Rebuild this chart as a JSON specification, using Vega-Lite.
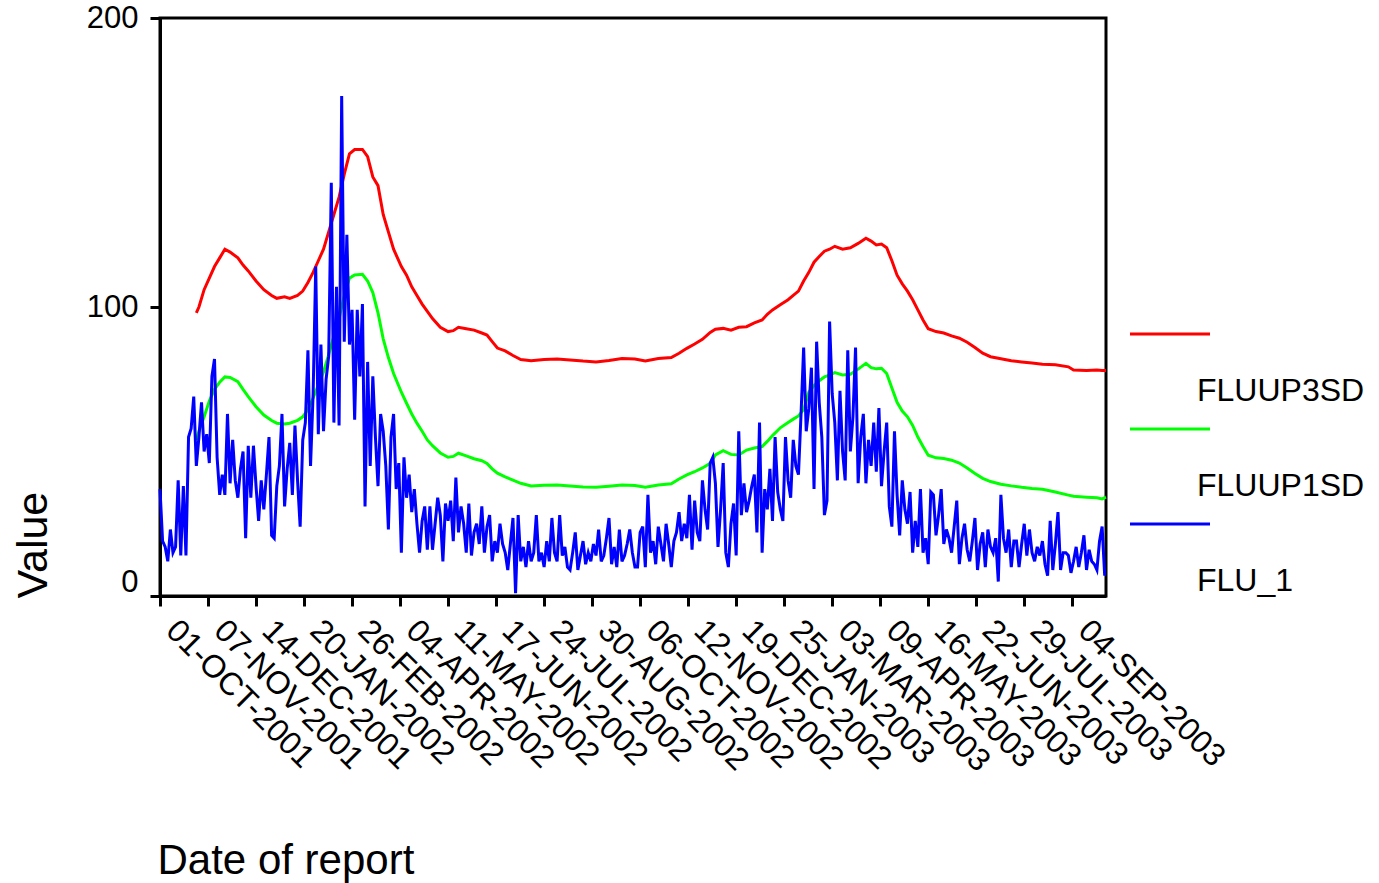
{
  "$schema": "https://vega.github.io/schema/vega-lite/v6.json",
  "width": 946,
  "height": 578,
  "autosize": {"type": "none"},
  "padding": {"left": 160, "top": 18, "right": 273, "bottom": 287},
  "background": "white",
  "config": {
    "view": {"stroke": "black", "strokeWidth": 3},
    "font": "Liberation Sans",
    "style": {"guide-label": {"lineHeight": 115}}
  },
  "datasets": {
    "limits": [
      {"date":"2001-10-29","FLUUP3SD":98,"FLUUP1SD":54},
      {"date":"2001-10-31","FLUUP3SD":100,"FLUUP1SD":57},
      {"date":"2001-11-04","FLUUP3SD":106,"FLUUP1SD":62},
      {"date":"2001-11-08","FLUUP3SD":110,"FLUUP1SD":67.5},
      {"date":"2001-11-12","FLUUP3SD":114,"FLUUP1SD":71.5},
      {"date":"2001-11-16","FLUUP3SD":117,"FLUUP1SD":74},
      {"date":"2001-11-20","FLUUP3SD":120,"FLUUP1SD":75.8},
      {"date":"2001-11-24","FLUUP3SD":119,"FLUUP1SD":75.6},
      {"date":"2001-11-30","FLUUP3SD":117,"FLUUP1SD":74.2},
      {"date":"2001-12-04","FLUUP3SD":114.5,"FLUUP1SD":71.5},
      {"date":"2001-12-08","FLUUP3SD":112.5,"FLUUP1SD":69},
      {"date":"2001-12-14","FLUUP3SD":109,"FLUUP1SD":65.5},
      {"date":"2001-12-20","FLUUP3SD":106,"FLUUP1SD":62.6},
      {"date":"2001-12-26","FLUUP3SD":104,"FLUUP1SD":60.7},
      {"date":"2001-12-30","FLUUP3SD":103,"FLUUP1SD":59.8},
      {"date":"2002-01-05","FLUUP3SD":103.5,"FLUUP1SD":59.5},
      {"date":"2002-01-09","FLUUP3SD":103,"FLUUP1SD":59.8},
      {"date":"2002-01-15","FLUUP3SD":104,"FLUUP1SD":60.8},
      {"date":"2002-01-19","FLUUP3SD":105.5,"FLUUP1SD":62},
      {"date":"2002-01-23","FLUUP3SD":108.5,"FLUUP1SD":64.5},
      {"date":"2002-01-27","FLUUP3SD":112,"FLUUP1SD":68.5},
      {"date":"2002-01-31","FLUUP3SD":116,"FLUUP1SD":73},
      {"date":"2002-02-04","FLUUP3SD":120,"FLUUP1SD":77.5},
      {"date":"2002-02-08","FLUUP3SD":126,"FLUUP1SD":83.5},
      {"date":"2002-02-12","FLUUP3SD":132,"FLUUP1SD":90},
      {"date":"2002-02-16","FLUUP3SD":138,"FLUUP1SD":96},
      {"date":"2002-02-20","FLUUP3SD":146,"FLUUP1SD":104},
      {"date":"2002-02-24","FLUUP3SD":153,"FLUUP1SD":110},
      {"date":"2002-02-28","FLUUP3SD":154.5,"FLUUP1SD":111.1},
      {"date":"2002-03-06","FLUUP3SD":154.5,"FLUUP1SD":111.3},
      {"date":"2002-03-10","FLUUP3SD":152,"FLUUP1SD":109},
      {"date":"2002-03-14","FLUUP3SD":145,"FLUUP1SD":105},
      {"date":"2002-03-18","FLUUP3SD":142,"FLUUP1SD":98},
      {"date":"2002-03-22","FLUUP3SD":132,"FLUUP1SD":89},
      {"date":"2002-03-26","FLUUP3SD":126,"FLUUP1SD":82.5},
      {"date":"2002-03-30","FLUUP3SD":120,"FLUUP1SD":77},
      {"date":"2002-04-05","FLUUP3SD":114,"FLUUP1SD":70.5},
      {"date":"2002-04-09","FLUUP3SD":111,"FLUUP1SD":66.7},
      {"date":"2002-04-13","FLUUP3SD":107,"FLUUP1SD":63},
      {"date":"2002-04-17","FLUUP3SD":104,"FLUUP1SD":59.8},
      {"date":"2002-04-21","FLUUP3SD":101,"FLUUP1SD":57},
      {"date":"2002-04-25","FLUUP3SD":98.5,"FLUUP1SD":54},
      {"date":"2002-04-29","FLUUP3SD":96,"FLUUP1SD":52},
      {"date":"2002-05-05","FLUUP3SD":93,"FLUUP1SD":49.5},
      {"date":"2002-05-11","FLUUP3SD":91.5,"FLUUP1SD":48},
      {"date":"2002-05-15","FLUUP3SD":91.8,"FLUUP1SD":48.3},
      {"date":"2002-05-19","FLUUP3SD":93,"FLUUP1SD":49.4},
      {"date":"2002-05-25","FLUUP3SD":92.5,"FLUUP1SD":48.5},
      {"date":"2002-05-31","FLUUP3SD":92,"FLUUP1SD":47.5},
      {"date":"2002-06-06","FLUUP3SD":91,"FLUUP1SD":46.8},
      {"date":"2002-06-10","FLUUP3SD":90.3,"FLUUP1SD":45.9},
      {"date":"2002-06-14","FLUUP3SD":88,"FLUUP1SD":44},
      {"date":"2002-06-18","FLUUP3SD":85.8,"FLUUP1SD":42.5},
      {"date":"2002-06-24","FLUUP3SD":84.8,"FLUUP1SD":41.2},
      {"date":"2002-06-30","FLUUP3SD":83.2,"FLUUP1SD":40.1},
      {"date":"2002-07-06","FLUUP3SD":81.8,"FLUUP1SD":39},
      {"date":"2002-07-14","FLUUP3SD":81.4,"FLUUP1SD":38.1},
      {"date":"2002-07-24","FLUUP3SD":81.8,"FLUUP1SD":38.3},
      {"date":"2002-08-03","FLUUP3SD":82,"FLUUP1SD":38.4},
      {"date":"2002-08-13","FLUUP3SD":81.7,"FLUUP1SD":38.1},
      {"date":"2002-08-23","FLUUP3SD":81.3,"FLUUP1SD":37.7},
      {"date":"2002-09-02","FLUUP3SD":81,"FLUUP1SD":37.6},
      {"date":"2002-09-12","FLUUP3SD":81.5,"FLUUP1SD":38},
      {"date":"2002-09-22","FLUUP3SD":82.2,"FLUUP1SD":38.4},
      {"date":"2002-10-02","FLUUP3SD":82,"FLUUP1SD":38.2},
      {"date":"2002-10-10","FLUUP3SD":81.3,"FLUUP1SD":37.6},
      {"date":"2002-10-20","FLUUP3SD":82.2,"FLUUP1SD":38.4},
      {"date":"2002-10-30","FLUUP3SD":82.5,"FLUUP1SD":38.8},
      {"date":"2002-11-05","FLUUP3SD":84,"FLUUP1SD":40.5},
      {"date":"2002-11-11","FLUUP3SD":85.7,"FLUUP1SD":41.9},
      {"date":"2002-11-17","FLUUP3SD":87.2,"FLUUP1SD":43},
      {"date":"2002-11-23","FLUUP3SD":88.8,"FLUUP1SD":44.3},
      {"date":"2002-11-29","FLUUP3SD":91.2,"FLUUP1SD":45.9},
      {"date":"2002-12-03","FLUUP3SD":92.3,"FLUUP1SD":48.8},
      {"date":"2002-12-09","FLUUP3SD":92.6,"FLUUP1SD":50.3},
      {"date":"2002-12-15","FLUUP3SD":92,"FLUUP1SD":49},
      {"date":"2002-12-21","FLUUP3SD":93,"FLUUP1SD":48.8},
      {"date":"2002-12-27","FLUUP3SD":93.2,"FLUUP1SD":50.5},
      {"date":"2003-01-02","FLUUP3SD":94.5,"FLUUP1SD":51.2},
      {"date":"2003-01-08","FLUUP3SD":95.5,"FLUUP1SD":51.7},
      {"date":"2003-01-12","FLUUP3SD":97.5,"FLUUP1SD":53.5},
      {"date":"2003-01-16","FLUUP3SD":99,"FLUUP1SD":55.5},
      {"date":"2003-01-22","FLUUP3SD":100.8,"FLUUP1SD":58.2},
      {"date":"2003-01-28","FLUUP3SD":102.5,"FLUUP1SD":60},
      {"date":"2003-02-01","FLUUP3SD":104,"FLUUP1SD":61.2},
      {"date":"2003-02-05","FLUUP3SD":105.5,"FLUUP1SD":62.3},
      {"date":"2003-02-09","FLUUP3SD":109,"FLUUP1SD":64.5},
      {"date":"2003-02-13","FLUUP3SD":112,"FLUUP1SD":70.5},
      {"date":"2003-02-17","FLUUP3SD":115.5,"FLUUP1SD":72.8},
      {"date":"2003-02-21","FLUUP3SD":117.5,"FLUUP1SD":74.5},
      {"date":"2003-02-25","FLUUP3SD":119.3,"FLUUP1SD":75.8},
      {"date":"2003-03-01","FLUUP3SD":120,"FLUUP1SD":76.4},
      {"date":"2003-03-05","FLUUP3SD":121,"FLUUP1SD":77.3},
      {"date":"2003-03-11","FLUUP3SD":120,"FLUUP1SD":76.5},
      {"date":"2003-03-17","FLUUP3SD":120.5,"FLUUP1SD":76.7},
      {"date":"2003-03-23","FLUUP3SD":122,"FLUUP1SD":78.5},
      {"date":"2003-03-29","FLUUP3SD":123.8,"FLUUP1SD":80.5},
      {"date":"2003-04-02","FLUUP3SD":122.8,"FLUUP1SD":79},
      {"date":"2003-04-06","FLUUP3SD":121.5,"FLUUP1SD":78.6},
      {"date":"2003-04-10","FLUUP3SD":121.8,"FLUUP1SD":78.8},
      {"date":"2003-04-14","FLUUP3SD":120.5,"FLUUP1SD":77},
      {"date":"2003-04-18","FLUUP3SD":116,"FLUUP1SD":72},
      {"date":"2003-04-22","FLUUP3SD":111,"FLUUP1SD":67},
      {"date":"2003-04-26","FLUUP3SD":108,"FLUUP1SD":64},
      {"date":"2003-04-30","FLUUP3SD":105.5,"FLUUP1SD":62},
      {"date":"2003-05-04","FLUUP3SD":102.5,"FLUUP1SD":59},
      {"date":"2003-05-08","FLUUP3SD":99,"FLUUP1SD":55},
      {"date":"2003-05-12","FLUUP3SD":95.5,"FLUUP1SD":51.7},
      {"date":"2003-05-16","FLUUP3SD":92.5,"FLUUP1SD":48.7},
      {"date":"2003-05-22","FLUUP3SD":91.5,"FLUUP1SD":47.8},
      {"date":"2003-05-28","FLUUP3SD":91,"FLUUP1SD":47.6},
      {"date":"2003-06-03","FLUUP3SD":90,"FLUUP1SD":47},
      {"date":"2003-06-09","FLUUP3SD":89.2,"FLUUP1SD":46},
      {"date":"2003-06-15","FLUUP3SD":87.8,"FLUUP1SD":44.3},
      {"date":"2003-06-21","FLUUP3SD":86,"FLUUP1SD":42.4},
      {"date":"2003-06-27","FLUUP3SD":84,"FLUUP1SD":40.7},
      {"date":"2003-07-03","FLUUP3SD":82.8,"FLUUP1SD":39.6},
      {"date":"2003-07-11","FLUUP3SD":82.1,"FLUUP1SD":38.7},
      {"date":"2003-07-19","FLUUP3SD":81.4,"FLUUP1SD":38.1},
      {"date":"2003-07-27","FLUUP3SD":81,"FLUUP1SD":37.6},
      {"date":"2003-08-04","FLUUP3SD":80.6,"FLUUP1SD":37.2},
      {"date":"2003-08-12","FLUUP3SD":80.2,"FLUUP1SD":36.9},
      {"date":"2003-08-22","FLUUP3SD":80,"FLUUP1SD":36},
      {"date":"2003-09-01","FLUUP3SD":79.3,"FLUUP1SD":34.9},
      {"date":"2003-09-05","FLUUP3SD":78.2,"FLUUP1SD":34.5},
      {"date":"2003-09-15","FLUUP3SD":78,"FLUUP1SD":34.2},
      {"date":"2003-09-23","FLUUP3SD":78.2,"FLUUP1SD":34},
      {"date":"2003-09-27","FLUUP3SD":78,"FLUUP1SD":33.6},
      {"date":"2003-09-30","FLUUP3SD":78,"FLUUP1SD":34.2}
    ],
    "flu": [
      {"date":"2001-10-01","FLU_1":37},{"date":"2001-10-03","FLU_1":19},{"date":"2001-10-05","FLU_1":17},{"date":"2001-10-07","FLU_1":12},
      {"date":"2001-10-09","FLU_1":23},{"date":"2001-10-11","FLU_1":15},{"date":"2001-10-13","FLU_1":17},{"date":"2001-10-15","FLU_1":40},
      {"date":"2001-10-17","FLU_1":14},{"date":"2001-10-19","FLU_1":38},{"date":"2001-10-21","FLU_1":14},{"date":"2001-10-23","FLU_1":55},
      {"date":"2001-10-25","FLU_1":58},{"date":"2001-10-27","FLU_1":69},{"date":"2001-10-29","FLU_1":45},{"date":"2001-10-31","FLU_1":55},
      {"date":"2001-11-02","FLU_1":67},{"date":"2001-11-04","FLU_1":50},{"date":"2001-11-06","FLU_1":56},{"date":"2001-11-08","FLU_1":46},
      {"date":"2001-11-10","FLU_1":76},{"date":"2001-11-12","FLU_1":82},{"date":"2001-11-14","FLU_1":48},{"date":"2001-11-16","FLU_1":35},
      {"date":"2001-11-18","FLU_1":42},{"date":"2001-11-20","FLU_1":35},{"date":"2001-11-22","FLU_1":63},{"date":"2001-11-24","FLU_1":39},
      {"date":"2001-11-26","FLU_1":54},{"date":"2001-11-28","FLU_1":40},{"date":"2001-11-30","FLU_1":34},
      {"date":"2001-12-02","FLU_1":44},{"date":"2001-12-04","FLU_1":50},{"date":"2001-12-06","FLU_1":20},{"date":"2001-12-08","FLU_1":52},
      {"date":"2001-12-10","FLU_1":34},{"date":"2001-12-12","FLU_1":52},{"date":"2001-12-14","FLU_1":38},{"date":"2001-12-16","FLU_1":26},
      {"date":"2001-12-18","FLU_1":40},{"date":"2001-12-20","FLU_1":30},{"date":"2001-12-22","FLU_1":42},{"date":"2001-12-24","FLU_1":55},
      {"date":"2001-12-26","FLU_1":21},{"date":"2001-12-28","FLU_1":20},{"date":"2001-12-30","FLU_1":38},
      {"date":"2002-01-01","FLU_1":45},{"date":"2002-01-03","FLU_1":63},{"date":"2002-01-05","FLU_1":31},{"date":"2002-01-07","FLU_1":44},
      {"date":"2002-01-09","FLU_1":53},{"date":"2002-01-11","FLU_1":35},{"date":"2002-01-13","FLU_1":59},{"date":"2002-01-15","FLU_1":40},
      {"date":"2002-01-17","FLU_1":24},{"date":"2002-01-19","FLU_1":54},{"date":"2002-01-21","FLU_1":60},{"date":"2002-01-23","FLU_1":85},
      {"date":"2002-01-25","FLU_1":45},{"date":"2002-01-27","FLU_1":70},{"date":"2002-01-29","FLU_1":114},{"date":"2002-01-31","FLU_1":56},
      {"date":"2002-02-02","FLU_1":87},{"date":"2002-02-04","FLU_1":57},{"date":"2002-02-06","FLU_1":75},{"date":"2002-02-08","FLU_1":83},
      {"date":"2002-02-10","FLU_1":143},{"date":"2002-02-12","FLU_1":60},{"date":"2002-02-14","FLU_1":107},{"date":"2002-02-16","FLU_1":59},
      {"date":"2002-02-18","FLU_1":173},{"date":"2002-02-20","FLU_1":88},{"date":"2002-02-22","FLU_1":125},{"date":"2002-02-24","FLU_1":87},
      {"date":"2002-02-26","FLU_1":99},{"date":"2002-02-28","FLU_1":61},
      {"date":"2002-03-02","FLU_1":99},{"date":"2002-03-04","FLU_1":76},{"date":"2002-03-06","FLU_1":101},{"date":"2002-03-08","FLU_1":31},
      {"date":"2002-03-10","FLU_1":81},{"date":"2002-03-12","FLU_1":45},{"date":"2002-03-14","FLU_1":76},{"date":"2002-03-16","FLU_1":55},
      {"date":"2002-03-18","FLU_1":38},{"date":"2002-03-20","FLU_1":63},{"date":"2002-03-22","FLU_1":57},{"date":"2002-03-24","FLU_1":45},
      {"date":"2002-03-26","FLU_1":23},{"date":"2002-03-28","FLU_1":55},{"date":"2002-03-30","FLU_1":63},
      {"date":"2002-04-01","FLU_1":37},{"date":"2002-04-03","FLU_1":46},{"date":"2002-04-05","FLU_1":15},{"date":"2002-04-07","FLU_1":48},
      {"date":"2002-04-09","FLU_1":34},{"date":"2002-04-11","FLU_1":42},{"date":"2002-04-13","FLU_1":29},{"date":"2002-04-15","FLU_1":37},
      {"date":"2002-04-17","FLU_1":25},{"date":"2002-04-19","FLU_1":15},{"date":"2002-04-21","FLU_1":26},{"date":"2002-04-23","FLU_1":31},
      {"date":"2002-04-25","FLU_1":16},{"date":"2002-04-27","FLU_1":31},{"date":"2002-04-29","FLU_1":16},
      {"date":"2002-05-01","FLU_1":25},{"date":"2002-05-03","FLU_1":34},{"date":"2002-05-05","FLU_1":28},{"date":"2002-05-07","FLU_1":12},
      {"date":"2002-05-09","FLU_1":32},{"date":"2002-05-11","FLU_1":26},{"date":"2002-05-13","FLU_1":33},{"date":"2002-05-15","FLU_1":19},
      {"date":"2002-05-17","FLU_1":41},{"date":"2002-05-19","FLU_1":22},{"date":"2002-05-21","FLU_1":31},{"date":"2002-05-23","FLU_1":25},
      {"date":"2002-05-25","FLU_1":15},{"date":"2002-05-27","FLU_1":32},{"date":"2002-05-29","FLU_1":14},{"date":"2002-05-31","FLU_1":22},
      {"date":"2002-06-02","FLU_1":25},{"date":"2002-06-04","FLU_1":18},{"date":"2002-06-06","FLU_1":31},{"date":"2002-06-08","FLU_1":15},
      {"date":"2002-06-10","FLU_1":24},{"date":"2002-06-12","FLU_1":28},{"date":"2002-06-14","FLU_1":12},{"date":"2002-06-16","FLU_1":19},
      {"date":"2002-06-18","FLU_1":15},{"date":"2002-06-20","FLU_1":25},{"date":"2002-06-22","FLU_1":18},{"date":"2002-06-24","FLU_1":15},
      {"date":"2002-06-26","FLU_1":9},{"date":"2002-06-28","FLU_1":18},{"date":"2002-06-30","FLU_1":27},
      {"date":"2002-07-02","FLU_1":1},{"date":"2002-07-04","FLU_1":28},{"date":"2002-07-06","FLU_1":12},{"date":"2002-07-08","FLU_1":17},
      {"date":"2002-07-10","FLU_1":10},{"date":"2002-07-12","FLU_1":19},{"date":"2002-07-14","FLU_1":12},{"date":"2002-07-16","FLU_1":15},
      {"date":"2002-07-18","FLU_1":28},{"date":"2002-07-20","FLU_1":12},{"date":"2002-07-22","FLU_1":15},{"date":"2002-07-24","FLU_1":10},
      {"date":"2002-07-26","FLU_1":19},{"date":"2002-07-28","FLU_1":12},{"date":"2002-07-30","FLU_1":27},
      {"date":"2002-08-01","FLU_1":15},{"date":"2002-08-03","FLU_1":12},{"date":"2002-08-05","FLU_1":28},{"date":"2002-08-07","FLU_1":14},
      {"date":"2002-08-09","FLU_1":17},{"date":"2002-08-11","FLU_1":10},{"date":"2002-08-13","FLU_1":9},{"date":"2002-08-15","FLU_1":15},
      {"date":"2002-08-17","FLU_1":22},{"date":"2002-08-19","FLU_1":9},{"date":"2002-08-21","FLU_1":14},{"date":"2002-08-23","FLU_1":19},
      {"date":"2002-08-25","FLU_1":11},{"date":"2002-08-27","FLU_1":15},{"date":"2002-08-29","FLU_1":12},{"date":"2002-08-31","FLU_1":18},
      {"date":"2002-09-02","FLU_1":14},{"date":"2002-09-04","FLU_1":23},{"date":"2002-09-06","FLU_1":12},{"date":"2002-09-08","FLU_1":14},
      {"date":"2002-09-10","FLU_1":20},{"date":"2002-09-12","FLU_1":27},{"date":"2002-09-14","FLU_1":11},{"date":"2002-09-16","FLU_1":17},
      {"date":"2002-09-18","FLU_1":10},{"date":"2002-09-20","FLU_1":23},{"date":"2002-09-22","FLU_1":12},{"date":"2002-09-24","FLU_1":14},
      {"date":"2002-09-26","FLU_1":18},{"date":"2002-09-28","FLU_1":23},{"date":"2002-09-30","FLU_1":15},
      {"date":"2002-10-02","FLU_1":10},{"date":"2002-10-04","FLU_1":10},{"date":"2002-10-06","FLU_1":22},{"date":"2002-10-08","FLU_1":24},
      {"date":"2002-10-10","FLU_1":10},{"date":"2002-10-12","FLU_1":35},{"date":"2002-10-14","FLU_1":15},{"date":"2002-10-16","FLU_1":19},
      {"date":"2002-10-18","FLU_1":11},{"date":"2002-10-20","FLU_1":24},{"date":"2002-10-22","FLU_1":18},{"date":"2002-10-24","FLU_1":12},
      {"date":"2002-10-26","FLU_1":25},{"date":"2002-10-28","FLU_1":18},{"date":"2002-10-30","FLU_1":10},
      {"date":"2002-11-01","FLU_1":19},{"date":"2002-11-03","FLU_1":22},{"date":"2002-11-05","FLU_1":29},{"date":"2002-11-07","FLU_1":19},
      {"date":"2002-11-09","FLU_1":25},{"date":"2002-11-11","FLU_1":20},{"date":"2002-11-13","FLU_1":35},{"date":"2002-11-15","FLU_1":16},
      {"date":"2002-11-17","FLU_1":33},{"date":"2002-11-19","FLU_1":22},{"date":"2002-11-21","FLU_1":19},{"date":"2002-11-23","FLU_1":40},
      {"date":"2002-11-25","FLU_1":30},{"date":"2002-11-27","FLU_1":23},{"date":"2002-11-29","FLU_1":46},
      {"date":"2002-12-01","FLU_1":48},{"date":"2002-12-03","FLU_1":39},{"date":"2002-12-05","FLU_1":17},{"date":"2002-12-07","FLU_1":30},
      {"date":"2002-12-09","FLU_1":46},{"date":"2002-12-11","FLU_1":15},{"date":"2002-12-13","FLU_1":10},{"date":"2002-12-15","FLU_1":25},
      {"date":"2002-12-17","FLU_1":32},{"date":"2002-12-19","FLU_1":14},{"date":"2002-12-21","FLU_1":57},{"date":"2002-12-23","FLU_1":28},
      {"date":"2002-12-25","FLU_1":39},{"date":"2002-12-27","FLU_1":29},{"date":"2002-12-29","FLU_1":33},{"date":"2002-12-31","FLU_1":38},
      {"date":"2003-01-02","FLU_1":42},{"date":"2003-01-04","FLU_1":22},{"date":"2003-01-06","FLU_1":60},{"date":"2003-01-08","FLU_1":15},
      {"date":"2003-01-10","FLU_1":37},{"date":"2003-01-12","FLU_1":30},{"date":"2003-01-14","FLU_1":44},{"date":"2003-01-16","FLU_1":26},
      {"date":"2003-01-18","FLU_1":55},{"date":"2003-01-20","FLU_1":36},{"date":"2003-01-22","FLU_1":30},{"date":"2003-01-24","FLU_1":26},
      {"date":"2003-01-26","FLU_1":55},{"date":"2003-01-28","FLU_1":40},{"date":"2003-01-30","FLU_1":34},
      {"date":"2003-02-01","FLU_1":54},{"date":"2003-02-03","FLU_1":45},{"date":"2003-02-05","FLU_1":42},{"date":"2003-02-07","FLU_1":63},
      {"date":"2003-02-09","FLU_1":86},{"date":"2003-02-11","FLU_1":57},{"date":"2003-02-13","FLU_1":65},{"date":"2003-02-15","FLU_1":79},
      {"date":"2003-02-17","FLU_1":37},{"date":"2003-02-19","FLU_1":88},{"date":"2003-02-21","FLU_1":67},{"date":"2003-02-23","FLU_1":55},
      {"date":"2003-02-25","FLU_1":28},{"date":"2003-02-27","FLU_1":33},
      {"date":"2003-03-01","FLU_1":95},{"date":"2003-03-03","FLU_1":70},{"date":"2003-03-05","FLU_1":60},{"date":"2003-03-07","FLU_1":40},
      {"date":"2003-03-09","FLU_1":71},{"date":"2003-03-11","FLU_1":50},{"date":"2003-03-13","FLU_1":40},{"date":"2003-03-15","FLU_1":85},
      {"date":"2003-03-17","FLU_1":50},{"date":"2003-03-19","FLU_1":62},{"date":"2003-03-21","FLU_1":86},{"date":"2003-03-23","FLU_1":39},
      {"date":"2003-03-25","FLU_1":55},{"date":"2003-03-27","FLU_1":63},{"date":"2003-03-29","FLU_1":39},{"date":"2003-03-31","FLU_1":54},
      {"date":"2003-04-02","FLU_1":45},{"date":"2003-04-04","FLU_1":60},{"date":"2003-04-06","FLU_1":43},{"date":"2003-04-08","FLU_1":65},
      {"date":"2003-04-10","FLU_1":38},{"date":"2003-04-12","FLU_1":50},{"date":"2003-04-14","FLU_1":60},{"date":"2003-04-16","FLU_1":31},
      {"date":"2003-04-18","FLU_1":24},{"date":"2003-04-20","FLU_1":57},{"date":"2003-04-22","FLU_1":35},{"date":"2003-04-24","FLU_1":21},
      {"date":"2003-04-26","FLU_1":40},{"date":"2003-04-28","FLU_1":30},{"date":"2003-04-30","FLU_1":25},
      {"date":"2003-05-02","FLU_1":36},{"date":"2003-05-04","FLU_1":15},{"date":"2003-05-06","FLU_1":26},{"date":"2003-05-08","FLU_1":17},
      {"date":"2003-05-10","FLU_1":37},{"date":"2003-05-12","FLU_1":15},{"date":"2003-05-14","FLU_1":20},{"date":"2003-05-16","FLU_1":11},
      {"date":"2003-05-18","FLU_1":36},{"date":"2003-05-20","FLU_1":35},{"date":"2003-05-22","FLU_1":21},{"date":"2003-05-24","FLU_1":28},
      {"date":"2003-05-26","FLU_1":37},{"date":"2003-05-28","FLU_1":18},{"date":"2003-05-30","FLU_1":23},
      {"date":"2003-06-01","FLU_1":20},{"date":"2003-06-03","FLU_1":15},{"date":"2003-06-05","FLU_1":24},{"date":"2003-06-07","FLU_1":33},
      {"date":"2003-06-09","FLU_1":11},{"date":"2003-06-11","FLU_1":20},{"date":"2003-06-13","FLU_1":25},{"date":"2003-06-15","FLU_1":16},
      {"date":"2003-06-17","FLU_1":12},{"date":"2003-06-19","FLU_1":19},{"date":"2003-06-21","FLU_1":27},{"date":"2003-06-23","FLU_1":9},
      {"date":"2003-06-25","FLU_1":18},{"date":"2003-06-27","FLU_1":22},{"date":"2003-06-29","FLU_1":10},
      {"date":"2003-07-01","FLU_1":23},{"date":"2003-07-03","FLU_1":17},{"date":"2003-07-05","FLU_1":15},{"date":"2003-07-07","FLU_1":20},
      {"date":"2003-07-09","FLU_1":5},{"date":"2003-07-11","FLU_1":35},{"date":"2003-07-13","FLU_1":20},{"date":"2003-07-15","FLU_1":15},
      {"date":"2003-07-17","FLU_1":23},{"date":"2003-07-19","FLU_1":10},{"date":"2003-07-21","FLU_1":19},{"date":"2003-07-23","FLU_1":19},
      {"date":"2003-07-25","FLU_1":10},{"date":"2003-07-27","FLU_1":18},{"date":"2003-07-29","FLU_1":25},{"date":"2003-07-31","FLU_1":14},
      {"date":"2003-08-02","FLU_1":23},{"date":"2003-08-04","FLU_1":15},{"date":"2003-08-06","FLU_1":12},{"date":"2003-08-08","FLU_1":17},
      {"date":"2003-08-10","FLU_1":14},{"date":"2003-08-12","FLU_1":19},{"date":"2003-08-14","FLU_1":11},{"date":"2003-08-16","FLU_1":7},
      {"date":"2003-08-18","FLU_1":26},{"date":"2003-08-20","FLU_1":9},{"date":"2003-08-22","FLU_1":18},{"date":"2003-08-24","FLU_1":29},
      {"date":"2003-08-26","FLU_1":9},{"date":"2003-08-28","FLU_1":15},{"date":"2003-08-30","FLU_1":15},
      {"date":"2003-09-01","FLU_1":14},{"date":"2003-09-03","FLU_1":8},{"date":"2003-09-05","FLU_1":12},{"date":"2003-09-07","FLU_1":17},
      {"date":"2003-09-09","FLU_1":10},{"date":"2003-09-11","FLU_1":15},{"date":"2003-09-13","FLU_1":21},{"date":"2003-09-15","FLU_1":9},
      {"date":"2003-09-17","FLU_1":16},{"date":"2003-09-19","FLU_1":12},{"date":"2003-09-21","FLU_1":11},{"date":"2003-09-23","FLU_1":9},
      {"date":"2003-09-25","FLU_1":19},{"date":"2003-09-27","FLU_1":24},{"date":"2003-09-29","FLU_1":7}
    ]
  },
  "encoding": {
    "x": {
      "field": "date",
      "type": "temporal",
      "scale": {
        "type": "utc",
        "domain": [{"year": 2001, "month": 10, "date": 1, "utc": true}, {"year": 2003, "month": 9, "date": 30, "utc": true}]
      },
      "axis": {
        "values": [
          {"year":2001,"month":10,"date":1,"utc":true},
          {"year":2001,"month":11,"date":7,"utc":true},
          {"year":2001,"month":12,"date":14,"utc":true},
          {"year":2002,"month":1,"date":20,"utc":true},
          {"year":2002,"month":2,"date":26,"utc":true},
          {"year":2002,"month":4,"date":4,"utc":true},
          {"year":2002,"month":5,"date":11,"utc":true},
          {"year":2002,"month":6,"date":17,"utc":true},
          {"year":2002,"month":7,"date":24,"utc":true},
          {"year":2002,"month":8,"date":30,"utc":true},
          {"year":2002,"month":10,"date":6,"utc":true},
          {"year":2002,"month":11,"date":12,"utc":true},
          {"year":2002,"month":12,"date":19,"utc":true},
          {"year":2003,"month":1,"date":25,"utc":true},
          {"year":2003,"month":3,"date":3,"utc":true},
          {"year":2003,"month":4,"date":9,"utc":true},
          {"year":2003,"month":5,"date":16,"utc":true},
          {"year":2003,"month":6,"date":22,"utc":true},
          {"year":2003,"month":7,"date":29,"utc":true},
          {"year":2003,"month":9,"date":4,"utc":true}
        ],
        "labelExpr": "upper(utcFormat(datum.value, '%d-%b-%Y'))",
        "labelAngle": 45,
        "labelAlign": "left",
        "labelBaseline": "middle",
        "labelOffset": 11,
        "labelPadding": 19,
        "labelFont": "Liberation Sans",
        "labelFontSize": 32,
        "labelColor": "black",
        "labelOverlap": false,
        "labelFlush": false,
        "labelBound": false,
        "labelLimit": 0,
        "grid": false,
        "domainColor": "black",
        "domainWidth": 3,
        "tickColor": "black",
        "tickWidth": 3,
        "tickSize": 10,
        "title": "Date of report",
        "titleFont": "Liberation Sans",
        "titleFontSize": 42,
        "titleFontWeight": "normal",
        "titleColor": "black",
        "titleAlign": "left",
        "titleAnchor": "start",
        "titleBaseline": "alphabetic",
        "titleX": -3,
        "titleY": 277
      }
    }
  },
  "layer": [
    {
      "data": {"name": "limits"},
      "mark": {"type": "line", "strokeWidth": 3, "interpolate": "linear"},
      "encoding": {
        "y": {
          "field": "FLUUP3SD", "type": "quantitative",
          "scale": {"domain": [0, 200], "nice": false, "zero": true},
          "axis": {
            "values": [0, 100, 200],
            "grid": false,
            "domainColor": "black", "domainWidth": 3,
            "tickColor": "black", "tickWidth": 3, "tickSize": 10,
            "labelFont": "Liberation Sans", "labelFontSize": 31, "labelColor": "black",
            "labelPadding": 12,
            "labelOffset": {"condition": {"test": "datum.value === 0", "value": -14}, "value": 0},
            "labelFlush": false,
            "labelOverlap": false,
            "title": "Value",
            "titleFont": "Liberation Sans", "titleFontSize": 43, "titleFontWeight": "normal", "titleColor": "black",
            "titleAngle": -90, "titleAlign": "left", "titleBaseline": "alphabetic",
            "titleX": -114, "titleY": 580
          }
        },
        "color": {
          "datum": "FLUUP3SD",
          "type": "nominal",
          "scale": {"domain": ["FLUUP3SD", "FLUUP1SD", "FLU_1"], "range": ["#ff0000", "#00ff00", "#0000ff"]},
          "legend": {
            "orient": "none", "legendX": 994, "legendY": 300, "title": null, "padding": 0,
            "symbolType": "M-16,0H16", "symbolSize": 25, "symbolStrokeWidth": 3,
            "labelFont": "Liberation Sans", "labelFontSize": 32, "labelColor": "black",
            "labelBaseline": "line-top",
            "labelOffset": 11, "labelLimit": 400, "rowPadding": 6
          }
        }
      }
    },
    {
      "data": {"name": "limits"},
      "mark": {"type": "line", "strokeWidth": 3, "interpolate": "linear"},
      "encoding": {
        "y": {"field": "FLUUP1SD", "type": "quantitative", "title": "Value", "scale": {"domain": [0, 200], "nice": false, "zero": true}},
        "color": {"datum": "FLUUP1SD", "type": "nominal"}
      }
    },
    {
      "data": {"name": "flu"},
      "mark": {"type": "line", "strokeWidth": 3, "interpolate": "linear"},
      "encoding": {
        "y": {"field": "FLU_1", "type": "quantitative", "title": "Value", "scale": {"domain": [0, 200], "nice": false, "zero": true}},
        "color": {"datum": "FLU_1", "type": "nominal"}
      }
    }
  ]
}
